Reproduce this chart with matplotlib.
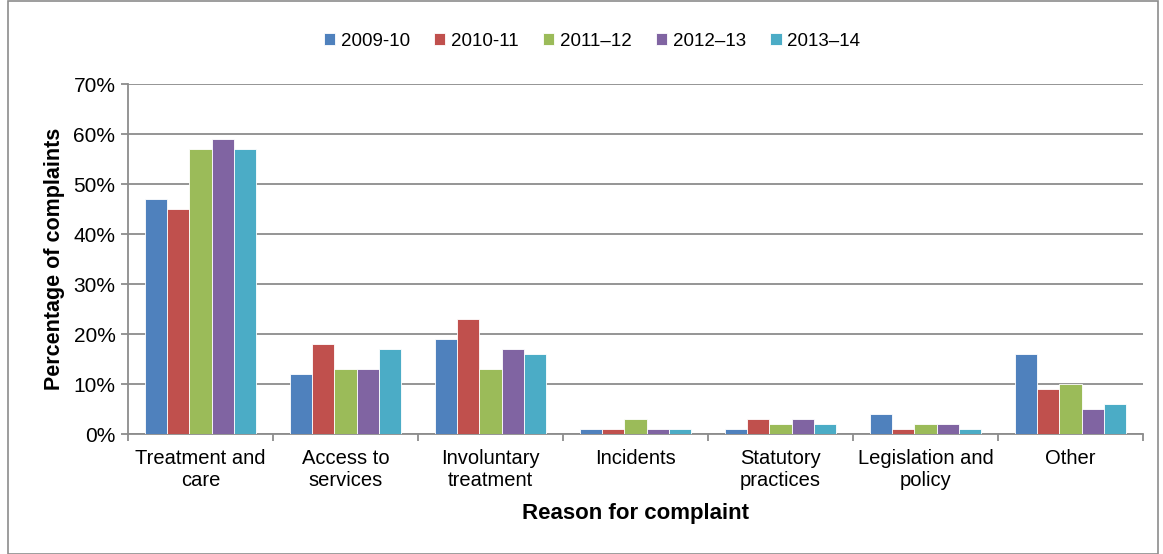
import matplotlib.pyplot as plt
import numpy as np
from matplotlib.patches import Rectangle
from matplotlib.ticker import PercentFormatter

plt.rcParams['font.family'] = ['Liberation Sans', 'DejaVu Sans']

categories = ['Treatment and\ncare', 'Access to\nservices', 'Involuntary\ntreatment',
              'Incidents', 'Statutory\npractices', 'Legislation and\npolicy', 'Other']
years = ['2009-10', '2010-11', '2011\u201312', '2012\u201313', '2013\u201314']
share_0910 = [47, 12, 19, 1, 1, 4, 16]
share_1011 = [45, 18, 23, 1, 3, 1, 9]
share_1112 = [57, 13, 13, 3, 2, 2, 10]
share_1213 = [59, 13, 17, 1, 3, 2, 5]
share_1314 = [57, 17, 16, 1, 2, 1, 6]
colours = ['#4F81BD', '#C0504D', '#9BBB59', '#8064A2', '#4BACC6']

series = [share_0910, share_1011, share_1112, share_1213, share_1314]

fig = plt.figure(figsize=(11.63, 5.54), dpi=100)
ax = fig.add_axes([128 / 1163, 1 - 434 / 554, (1143 - 128) / 1163, 350 / 554])

x = np.arange(len(categories))
w = 0.152
for i, (vals, col, lab) in enumerate(zip(series, colours, years)):
    ax.bar(x + (i - 2) * w, vals, w, color=col, label=lab,
           edgecolor='white', linewidth=0.6, zorder=3)

ax.set_xlim(-0.5, len(categories) - 0.5)
ax.set_ylim(0, 70)
ax.set_yticks(range(0, 71, 10))
ax.yaxis.set_major_formatter(PercentFormatter(decimals=0))
ax.grid(axis='y', color='#8C8C8C', linewidth=1.3, zorder=0)
ax.set_axisbelow(True)

ax.set_xticks(x)
ax.set_xticklabels(categories, fontsize=14.5, linespacing=1.15)
ax.set_xticks(np.arange(-0.5, len(categories)), minor=True)
ax.tick_params(axis='x', which='major', length=0, pad=11)
ax.tick_params(axis='x', which='minor', length=5, width=1.3, color='#8C8C8C')
ax.tick_params(axis='y', length=5, width=1.3, color='#8C8C8C', labelsize=15, pad=4)

for side in ['top', 'right']:
    ax.spines[side].set_visible(False)
for side in ['left', 'bottom']:
    ax.spines[side].set_color('#8C8C8C')
    ax.spines[side].set_linewidth(1.3)

ax.set_ylabel('Percentage of complaints', fontsize=15.5, fontweight='bold', labelpad=6)
ax.set_xlabel('Reason for complaint', fontsize=16, fontweight='bold', labelpad=10)

fig.legend(loc='center', bbox_to_anchor=(592 / 1163, 1 - 41 / 554), ncol=5,
           frameon=False, fontsize=13.5, handlelength=0.6, handleheight=0.6,
           handletextpad=0.3, columnspacing=1.3)

fig.patches.append(Rectangle((8 / 1163, 0), 1150 / 1163, 0.999, transform=fig.transFigure,
                             fill=False, edgecolor='#8C8C8C', linewidth=1.2))

fig.savefig('out.png', dpi=100)
